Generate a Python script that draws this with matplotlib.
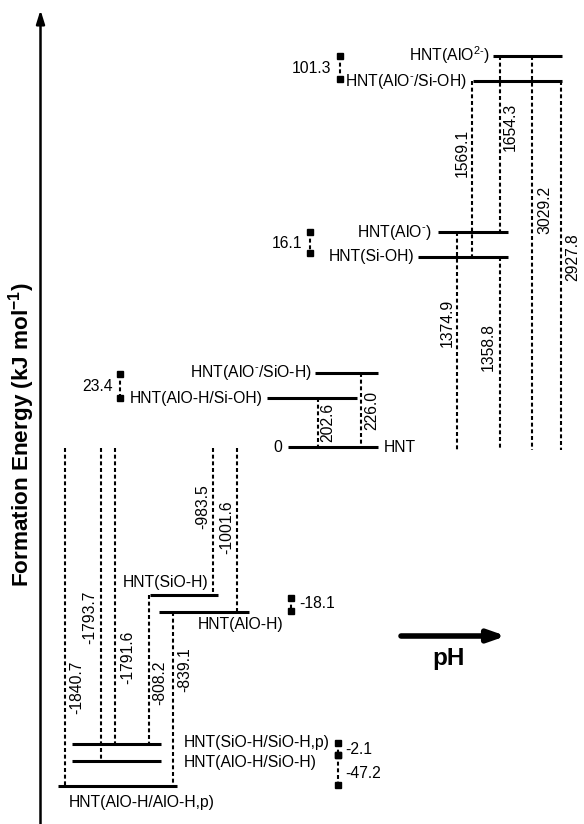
import matplotlib.pyplot as plt

plt.rcParams['font.family'] = ['Liberation Sans', 'DejaVu Sans']
plt.rcParams['mathtext.fontset'] = 'custom'
plt.rcParams['mathtext.rm'] = 'Liberation Sans'
plt.rcParams['mathtext.bf'] = 'Liberation Sans:bold'

# energy levels (schematic diagram, not to scale)
level_names = [r'HNT(AlO$^{2\text{-}}$)', r'HNT(AlO$^{\text{-}}$/Si-OH)', r'HNT(AlO$^{\text{-}}$)',
               'HNT(Si-OH)', r'HNT(AlO$^{\text{-}}$/SiO-H)', 'HNT(AlO-H/Si-OH)', 'HNT',
               'HNT(SiO-H)', 'HNT(AlO-H)', 'HNT(SiO-H/SiO-H,p)', 'HNT(AlO-H/SiO-H)',
               'HNT(AlO-H/AlO-H,p)']
# layout of each level: y, x start, x end, label x, label y, label alignment
level_y = [56, 81, 232, 257, 373, 398, 447, 595, 612, 744, 761, 786]
level_x0 = [493, 473, 438, 418, 315, 267, 288, 150, 159, 72, 72, 58]
level_x1 = [562, 562, 508, 508, 378, 357, 378, 218, 249, 161, 161, 177]
label_x = [490, 467, 431, 414, 312, 263, 384, 123, 198, 184, 184, 69]
label_y = [55, 81, 232, 257, 372, 398, 447, 582, 624, 743, 762, 802]
label_ha = ['right', 'right', 'right', 'right', 'right', 'right', 'left', 'left', 'left',
            'left', 'left', 'left']

# transition energies drawn as dashed connectors
conn_values = ['1374.9', '1569.1', '1654.3', '1358.8', '3029.2', '2927.8',
               '202.6', '226.0',
               '-1840.7', '-1793.7', '-1791.6', '-983.5', '-1001.6', '-808.2', '-839.1']
conn_x = [457, 472, 500, 500, 532, 561, 318, 361, 65, 101, 115, 213, 237, 149, 173]
conn_y0 = [232, 81, 56, 257, 56, 81, 398, 373, 448, 448, 448, 448, 448, 595, 612]
conn_y1 = [450, 257, 232, 450, 450, 450, 447, 447, 786, 761, 744, 595, 612, 744, 786]
conn_tx = [447, 462, 510, 488, 545, 573, 328, 372, 77, 90, 128, 203, 227, 160, 185]
conn_ty = [323, 153, 127, 347, 210, 257, 422, 410, 687, 617, 657, 507, 527, 683, 670]

# small energy gaps between neighbouring levels
gap_values = ['101.3', '16.1', '23.4', '-18.1', '-2.1', '-47.2']
gap_x = [340, 310, 120, 291, 338, 338]
gap_ya = [56, 232, 374, 598, 743, 755]
gap_yb = [79, 253, 398, 611, 755, 785]
gap_tx = [331, 302, 113, 299, 345, 345]
gap_ty = [68, 243, 386, 604, 750, 773]
gap_ha = ['right', 'right', 'right', 'left', 'left', 'left']

fig = plt.figure(figsize=(5.84, 8.24), dpi=100)
ax = fig.add_axes([0, 0, 1, 1])
ax.set_xlim(0, 584)
ax.set_ylim(824, 0)
ax.axis('off')

fs = 11.3
for i in range(len(level_names)):
    ax.plot([level_x0[i], level_x1[i]], [level_y[i], level_y[i]], color='black', lw=2.2,
            solid_capstyle='butt')
    ax.text(label_x[i], label_y[i], level_names[i], ha=label_ha[i], va='center', fontsize=fs)
ax.text(282, 447, '0', ha='right', va='center', fontsize=fs)

for i in range(len(conn_values)):
    ax.plot([conn_x[i], conn_x[i]], [conn_y0[i], conn_y1[i]], color='black', lw=1.5,
            linestyle=(0, (1.9, 1.3)))
    ax.text(conn_tx[i], conn_ty[i], conn_values[i], rotation=90, ha='center', va='center',
            fontsize=fs)

for i in range(len(gap_values)):
    ax.plot([gap_x[i], gap_x[i]], [gap_ya[i], gap_yb[i]], color='black', lw=1.5,
            linestyle=(0, (1.9, 1.3)))
    ax.plot([gap_x[i], gap_x[i]], [gap_ya[i], gap_yb[i]], 's', color='black', ms=4.5, lw=0)
    ax.text(gap_tx[i], gap_ty[i], gap_values[i], ha=gap_ha[i], va='center', fontsize=fs)

# energy axis
ax.annotate('', xy=(40.5, 10), xytext=(40.5, 824),
            arrowprops=dict(arrowstyle='-|>,head_width=0.25,head_length=0.8', color='black',
                            lw=1.8, shrinkA=0, shrinkB=0))
ax.text(22, 435, r'Formation Energy (kJ mol$^{\mathbf{-1}}$)', rotation=90, ha='center',
        va='center', fontsize=16.2, fontweight='bold')

# pH arrow
ax.annotate('', xy=(506, 636), xytext=(401, 636),
            arrowprops=dict(arrowstyle='-|>,head_width=0.35,head_length=1.0', color='black',
                            lw=4, shrinkA=0, shrinkB=0))
ax.text(449, 658, 'pH', ha='center', va='center', fontsize=17.5, fontweight='bold')

fig.savefig('out.png', dpi=100)
